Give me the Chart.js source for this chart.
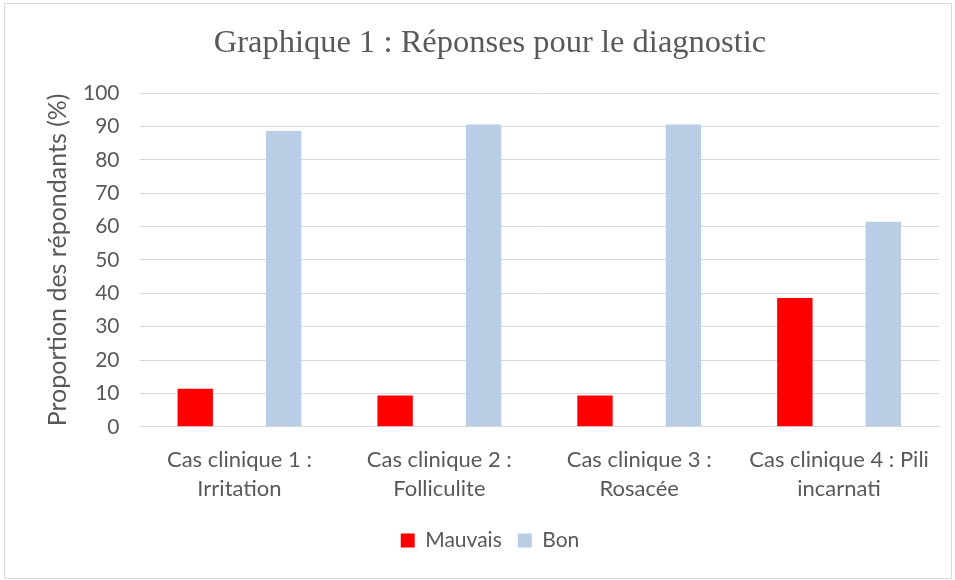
<!DOCTYPE html>
<html>
<head>
<meta charset="utf-8">
<script src="https://cdn.jsdelivr.net/npm/chart.js@4/dist/chart.umd.min.js"></script>
<style>
  body { margin: 0; background: #fff; }
  #cadre { position: absolute; left: 4px; top: 3px; width: 946px; height: 574px; border: 1px solid #d9d9d9; }
  canvas { display: block; }
</style>
</head>
<body>
<div id="cadre"><canvas id="graphique" width="946" height="574"></canvas></div>
<script>
const categories = [
  ['Cas clinique 1 :', 'Irritation'],
  ['Cas clinique 2 :', 'Folliculite'],
  ['Cas clinique 3 :', 'Rosacée'],
  ['Cas clinique 4 : Pili', 'incarnati']
];
const mauvais = [11.4, 9.4, 9.4, 38.6];
const bon = [88.6, 90.6, 90.6, 61.4];

const gris = '#595959';
const police = 'Lato, "Open Sans", sans-serif';

new Chart(document.getElementById('graphique'), {
  type: 'bar',
  data: {
    labels: categories,
    datasets: [
      { label: 'Mauvais', data: mauvais, backgroundColor: '#ff0000', categoryPercentage: 0.885, barPercentage: 0.4 },
      { label: 'Bon', data: bon, backgroundColor: '#b9cde5', categoryPercentage: 0.885, barPercentage: 0.4 }
    ]
  },
  options: {
    responsive: false,
    animation: false,
    layout: { padding: { left: 36, right: 12, top: 8, bottom: 17 } },
    plugins: {
      title: {
        display: true,
        text: 'Graphique 1 : Réponses pour le diagnostic',
        color: gris,
        font: { family: '"Liberation Serif", serif', size: 32.5, weight: 'normal' },
        padding: { top: 12, bottom: 30 }
      },
      legend: {
        position: 'bottom',
        labels: {
          color: gris,
          font: { family: police, size: 21 },
          boxWidth: 14,
          boxHeight: 14,
          padding: 16
        }
      },
      tooltip: { enabled: false }
    },
    scales: {
      x: {
        grid: { display: false },
        border: { color: '#d9d9d9' },
        ticks: { color: gris, font: { family: police, size: 22, lineHeight: 1.3 }, maxRotation: 0, padding: 11 }
      },
      y: {
        min: 0,
        max: 100,
        ticks: { stepSize: 10, color: gris, font: { family: police, size: 21 }, padding: 20 },
        grid: { color: '#d9d9d9', drawTicks: false },
        border: { display: false },
        title: {
          display: true,
          text: 'Proportion des répondants (%)',
          color: gris,
          font: { family: police, size: 25 },
          padding: { top: 2, bottom: -10 }
        }
      }
    }
  }
});
</script>
</body>
</html>
